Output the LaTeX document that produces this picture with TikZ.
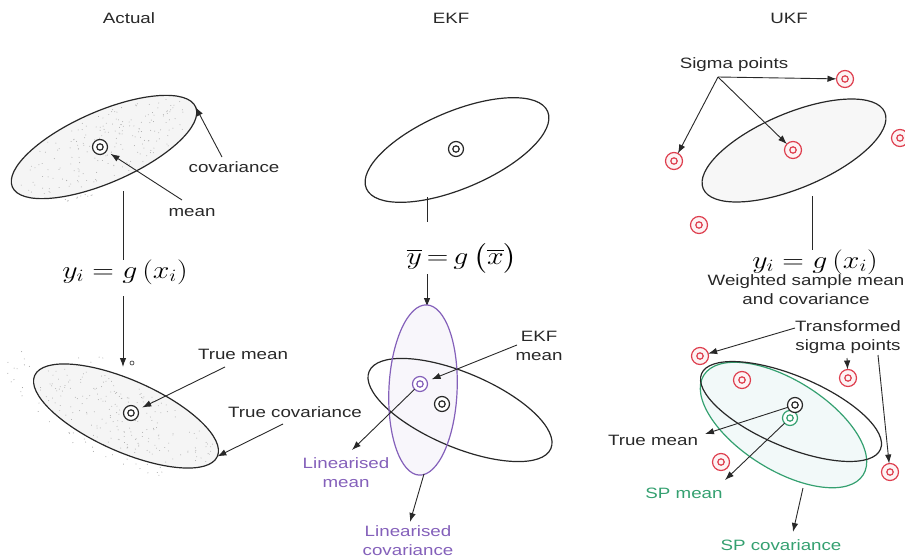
\documentclass[tikz,border=0pt]{standalone}
\usepackage{amsmath}
\usepackage[no-math]{fontspec}
\setmainfont{Liberation Sans}[FakeStretch=1.25]
\usepackage{graphicx}
\usetikzlibrary{arrows.meta}
\definecolor{sred}{RGB}{222,62,78}
\definecolor{sgreen}{RGB}{52,160,112}
\definecolor{spurple}{RGB}{132,96,186}
\definecolor{ink}{RGB}{40,40,40}
\newcommand{\wideeq}[1]{\scalebox{1.2}[1]{\fontsize{25pt}{30pt}\selectfont$#1$}}
\begin{document}
\begin{tikzpicture}[x=1pt,y=-1pt,
  arr/.style={draw=ink, line width=0.9pt, -{Latex[length=9pt,width=6.5pt]}},
  plain/.style={draw=ink, line width=1pt},
  eline/.style={draw=ink, line width=1.2pt},
  mpt/.style={circle, draw=#1, line width=1.2pt, minimum size=15pt, inner sep=0pt, outer sep=0pt, fill=white,
    path picture={\draw[#1, line width=1.2pt] (path picture bounding box.center) circle (3.2pt);}},
  mpt/.default=ink,
  spt/.style={mpt=sred, minimum size=17pt, fill=sred!6},
  lbl/.style={font=\fontsize{15pt}{19pt}\selectfont, text=ink, align=center, inner sep=0pt},
  eq/.style={inner sep=0pt, text=black}]
\useasboundingbox (0,0) rectangle (905,559);

% ---------------- titles
\node[lbl] (tA) at (129,18) {Actual};
\node[lbl] (tE) at (451,18) {EKF};
\node[lbl] (tU) at (789,18) {UKF};

% ================= ACTUAL (top)
\begin{scope}[shift={(104,147)}, rotate=23.6]
  \draw[eline, fill=black!4] (0,0) ellipse [x radius=100, y radius=35.6];
  \coordinate (A1) at (0,0);
  \coordinate (A1e) at (100,0);
  \pgfmathsetseed{7}
  \foreach \k in {1,...,200}{
    \pgfmathsetmacro\myR{sqrt(rnd)}
    \pgfmathsetmacro\myT{360*rnd}
    \fill[black!32] ({\myR*96*cos(\myT)},{\myR*32*sin(\myT)}) circle (0.5);
  }
  \foreach \k in {1,...,10}{
    \pgfmathsetmacro\myR{1.06+0.18*rnd}
    \pgfmathsetmacro\myT{100+35*rnd}
    \fill[black!40] ({\myR*100*cos(\myT)},{\myR*35.6*sin(\myT)}) circle (0.5);
  }
\end{scope}
\node[mpt] (m1) at (100,147) {};
\node[lbl] (lcov) at (234,167) {covariance};
\node[lbl] (lmean) at (192,213) {mean};
\coordinate (covS) at (222,157);
\coordinate (meanS) at (182,200);
\draw[arr] (covS) -- (A1e);
\draw[arr, shorten >=5pt] (meanS) -- (m1);

\coordinate (lA) at (123,191);
\node[eq] (eqA) at (125,272) {\wideeq{y_i = g\left(x_i\right)}};
\draw[plain] (lA) -- (lA |- 0,260);
\coordinate (aA1) at (123,296);
\coordinate (aA2) at (123,367);
\draw[arr] (aA1) -- (aA2);
\node[circle, draw=ink, line width=0.6pt, minimum size=4pt, inner sep=0pt] (sm) at (132,363) {};

% ================= ACTUAL (bottom)
\begin{scope}[shift={(126,416)}, rotate=-23.9]
  \draw[eline, fill=black!4] (0,0) ellipse [x radius=99.9, y radius=35.8];
  \coordinate (A2) at (0,0);
  \coordinate (A2e) at (99.9,0);
  \pgfmathsetseed{11}
  \foreach \k in {1,...,200}{
    \pgfmathsetmacro\myR{sqrt(rnd)}
    \pgfmathsetmacro\myT{360*rnd}
    \fill[black!32] ({\myR*96*cos(\myT)},{\myR*32*sin(\myT)}) circle (0.5);
  }
  \foreach \k in {1,...,40}{
    \pgfmathsetmacro\myR{1.06+0.28*rnd}
    \pgfmathsetmacro\myT{60+190*rnd}
    \fill[black!40] ({\myR*100*cos(\myT)},{\myR*35.8*sin(\myT)}) circle (0.5);
  }
\end{scope}
\node[mpt] (m2) at (131,413) {};
\node[lbl] (ltm) at (243,354) {True mean};
\node[lbl] (ltc) at (295,412) {True covariance};
\coordinate (tmS) at (225,367);
\coordinate (tcS) at (283,424);
\draw[arr, shorten >=5pt] (tmS) -- (m2);
\draw[arr] (tcS) -- (A2e);

% ================= EKF
\begin{scope}[shift={(457,150)}, rotate=23]
  \draw[eline] (0,0) ellipse [x radius=98.5, y radius=38.5];
  \coordinate (E1) at (0,0);
\end{scope}
\node[mpt] (me) at (456,149) {};
\coordinate (lE) at (427,197);
\draw[plain] (lE) -- (427,222);
\node[eq] (eqE) at (462,258) {\wideeq{\overline{y}\,{=}\,g\,\bigl(\overline{x}\bigr)}};
\coordinate (aE1) at (427,274);
\coordinate (aE2) at (427,307);
\draw[arr] (aE1) -- (aE2);

\begin{scope}[shift={(423,390)}, rotate=87.5]
  \fill[spurple!6] (0,0) ellipse [x radius=85.2, y radius=34.1];
\end{scope}
\begin{scope}[shift={(460,410)}, rotate=-23]
  \draw[eline] (0,0) ellipse [x radius=98.7, y radius=37.2];
  \coordinate (E2) at (0,0);
\end{scope}
\begin{scope}[shift={(423,390)}, rotate=87.5]
  \draw[draw=spurple, line width=1.2pt] (0,0) ellipse [x radius=85.2, y radius=34.1];
  \coordinate (P) at (0,0);
\end{scope}
\node[mpt=spurple] (mP) at (420,384) {};
\node[mpt] (mE) at (442,404) {};
\node[lbl] (lekf) at (539,346) {EKF\\mean};
\node[lbl, text=spurple] (llm) at (346,473) {Linearised\\mean};
\node[lbl, text=spurple] (llc) at (408,541) {Linearised\\covariance};
\coordinate (ekS) at (517,345);
\coordinate (lmT) at (352,450);
\coordinate (lcS) at (424,474);
\coordinate (lcT) at (410,522);
\draw[arr, shorten >=5pt] (ekS) -- (mP);
\draw[arr] (mP) -- (lmT);
\draw[arr] (lcS) -- (lcT);

% ================= UKF (top)
\node[lbl] (lsig) at (734,65) {Sigma points};
\begin{scope}[shift={(794,150.5)}, rotate=22.8]
  \draw[eline, fill=black!3] (0,0) ellipse [x radius=98.5, y radius=37.5];
  \coordinate (U1) at (0,0);
\end{scope}
\node[spt] (s1) at (845,79) {};
\node[spt] (s2) at (793,150) {};
\node[spt] (s3) at (674,161) {};
\node[spt] (s4) at (699,225) {};
\node[spt] (s5) at (900,138) {};
\coordinate (sgS) at (718,77);
\draw[arr] (sgS) -- (s1);
\draw[arr] (sgS) -- (s3);
\draw[arr] (sgS) -- (s2);
\coordinate (lU) at (812,196);
\draw[plain] (lU) -- (812,250);
\node[eq] (eqU) at (815,262) {\wideeq{y_i = g\left(x_i\right)}};
\node[lbl] (lws) at (806,290) {Weighted sample mean\\and covariance};

% ================= UKF (bottom)
\begin{scope}[shift={(783.5,425)}, rotate=-32]
  \draw[draw=sgreen, line width=1.2pt, fill=teal!5] (0,0) ellipse [x radius=94, y radius=45];
  \coordinate (G) at (0,0);
\end{scope}
\begin{scope}[shift={(791,411.5)}, rotate=-22.9]
  \draw[eline] (0,0) ellipse [x radius=97.1, y radius=35.5];
  \coordinate (U2) at (0,0);
\end{scope}
\node[spt] (t1) at (700,356) {};
\node[spt] (t2) at (742,380) {};
\node[spt] (t3) at (848,378) {};
\node[spt] (t4) at (890,472) {};
\node[spt] (t5) at (721,462) {};
\node[mpt=sgreen] (gm) at (790,418) {};
\node[mpt] (km) at (795,405) {};
\node[lbl] (ltsp) at (848,337) {Transformed\\sigma points};
\node[lbl] (lutm) at (653,440) {True mean};
\node[lbl, text=sgreen] (lspm) at (684,493) {SP mean};
\node[lbl, text=sgreen] (lspc) at (781,545) {SP covariance};
\coordinate (tsS1) at (795,328);
\coordinate (tsS2) at (847,358);
\coordinate (tsS3) at (878,355);
\draw[arr] (tsS1) -- (t1);
\draw[arr] (tsS2) -- (t3);
\draw[arr] (tsS3) -- (t4);
\coordinate (utmT) at (705,434);
\coordinate (spmT) at (725,480);
\coordinate (spcS) at (803,488);
\coordinate (spcT) at (793,532);
\draw[arr] (km) -- (utmT);
\draw[arr] (gm) -- (spmT);
\draw[arr] (spcS) -- (spcT);
\end{tikzpicture}
\end{document}
